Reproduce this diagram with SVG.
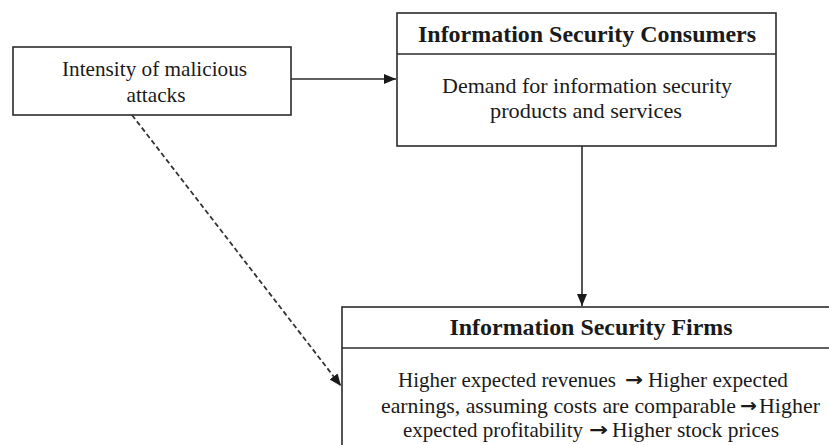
<svg xmlns="http://www.w3.org/2000/svg" width="829" height="445" viewBox="0 0 829 445">
<defs>
<style>
.box{fill:#fff;stroke:#2b2b2b;stroke-width:1.6}
.div{stroke:#2b2b2b;stroke-width:1.6}
.t{font-family:"Liberation Serif","Times New Roman",serif;font-size:21.5px;fill:#1a1a1a;text-anchor:middle}
.s{text-anchor:start}
.b{font-weight:bold;font-size:24px}
.ar{font-family:"DejaVu Sans",sans-serif;font-weight:bold;font-size:19px;fill:#1a1a1a}
.c{stroke:#2b2b2b;stroke-width:1.6;fill:none}
.d{stroke:#333;stroke-width:1.8;fill:none;stroke-dasharray:5 3}
</style>
<marker id="ah" viewBox="0 0 12 10" refX="12" refY="5" markerWidth="12" markerHeight="10" markerUnits="userSpaceOnUse" orient="auto">
<path d="M0,0 L12,5 L0,10 Z" fill="#1a1a1a"/>
</marker>
</defs>
<rect width="829" height="445" fill="#fff"/>
<g id="attacks">
<rect class="box" x="13" y="47" width="278" height="68"/>
<text class="t" x="154.5" y="76" textLength="185" lengthAdjust="spacingAndGlyphs">Intensity of malicious</text>
<text class="t" x="156" y="102" textLength="59" lengthAdjust="spacingAndGlyphs">attacks</text>
</g>
<g id="consumers">
<rect class="box" x="397" y="13" width="379" height="133"/>
<line class="div" x1="397" y1="54" x2="776" y2="54"/>
<text class="t b" x="587" y="42" textLength="338" lengthAdjust="spacingAndGlyphs">Information Security Consumers</text>
<text class="t" x="587" y="93" textLength="290" lengthAdjust="spacingAndGlyphs">Demand for information security</text>
<text class="t" x="586" y="118" textLength="192" lengthAdjust="spacingAndGlyphs">products and services</text>
</g>
<g id="firms">
<rect class="box" x="342" y="307" width="500" height="160"/>
<line class="div" x1="342" y1="348" x2="842" y2="348"/>
<text class="t b" x="591" y="335" textLength="283" lengthAdjust="spacingAndGlyphs">Information Security Firms</text>
<text class="t s" x="398" y="387" textLength="218" lengthAdjust="spacingAndGlyphs">Higher expected revenues</text>
<text class="ar" x="625" y="386" textLength="18" lengthAdjust="spacingAndGlyphs">→</text>
<text class="t s" x="648" y="387" textLength="140" lengthAdjust="spacingAndGlyphs">Higher expected</text>
<text class="t s" x="381" y="413" textLength="355" lengthAdjust="spacingAndGlyphs">earnings, assuming costs are comparable</text>
<text class="ar" x="740" y="412" textLength="17" lengthAdjust="spacingAndGlyphs">→</text>
<text class="t s" x="759" y="413" textLength="61" lengthAdjust="spacingAndGlyphs">Higher</text>
<text class="t s" x="403" y="437" textLength="180" lengthAdjust="spacingAndGlyphs">expected profitability</text>
<text class="ar" x="589" y="436" textLength="19" lengthAdjust="spacingAndGlyphs">→</text>
<text class="t s" x="612" y="437" textLength="167" lengthAdjust="spacingAndGlyphs">Higher stock prices</text>
</g>
<g id="connectors">
<line class="c" x1="291" y1="79" x2="396" y2="79" marker-end="url(#ah)"/>
<line class="c" x1="582" y1="146" x2="582" y2="306" marker-end="url(#ah)"/>
<line class="d" x1="132" y1="115" x2="341" y2="386" marker-end="url(#ah)"/>
</g>
</svg>
